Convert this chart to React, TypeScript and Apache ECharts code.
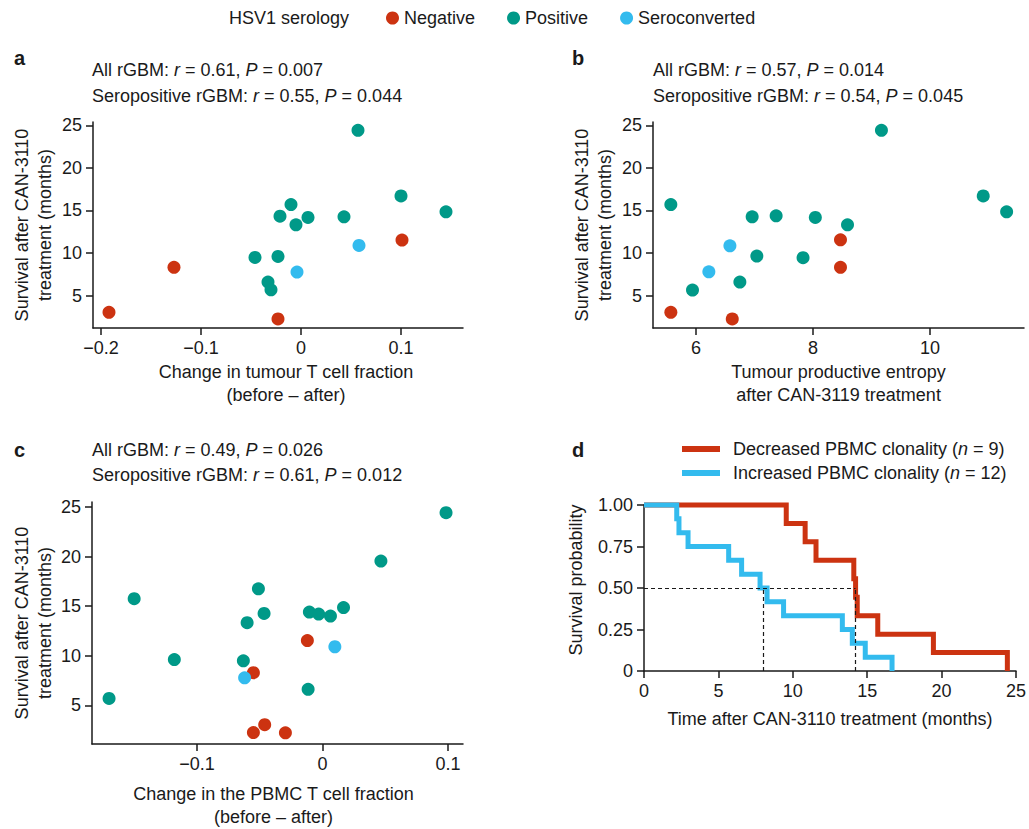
import React, { useEffect, useRef } from 'react';
import * as echarts from 'echarts';

const RED = '#CC3311';
const TEAL = '#009988';
const CYAN = '#33BBEE';
const INK = '#1a1a1a';
const FONT = '"Liberation Sans", Arial, Helvetica, sans-serif';
const FS = 18;

// HSV1 serology groups
const serologyGroups = ['Negative', 'Positive', 'Seroconverted'];
const groupColors = [RED, TEAL, CYAN];

// a: change in tumour T cell fraction vs survival (months)
const aNegative = [[-0.192, 3.04], [-0.127, 8.32], [-0.023, 2.26], [0.101, 11.52]];
const aPositive = [
  [0.057, 24.41], [0.1, 16.71], [0.145, 14.84], [-0.01, 15.7], [-0.021, 14.33], [0.007, 14.18],
  [-0.005, 13.31], [0.043, 14.25], [-0.046, 9.49], [-0.023, 9.61], [-0.033, 6.59], [-0.03, 5.69],
];
const aSeroconverted = [[-0.004, 7.77], [0.058, 10.9]];

// b: tumour productive entropy vs survival (months)
const bNegative = [[5.57, 3.04], [6.62, 2.26], [8.47, 11.56], [8.47, 8.32]];
const bPositive = [
  [5.57, 15.7], [5.94, 5.66], [6.75, 6.59], [6.96, 14.25], [7.04, 9.65], [7.37, 14.37],
  [7.83, 9.45], [8.04, 14.18], [8.59, 13.31], [9.17, 24.41], [10.91, 16.71], [11.31, 14.84],
];
const bSeroconverted = [[6.22, 7.8], [6.58, 10.85]];

// c: change in PBMC T cell fraction vs survival (months)
const cNegative = [[-0.055, 8.3], [-0.012, 11.53], [-0.046, 3.06], [-0.055, 2.27], [-0.0295, 2.24]];
const cPositive = [
  [-0.17, 5.7], [-0.15, 15.75], [-0.118, 9.62], [-0.051, 16.74], [-0.0465, 14.27], [-0.06, 13.34],
  [-0.063, 9.49], [-0.0104, 14.4], [-0.003, 14.2], [0.0064, 14.0], [0.0168, 14.86], [-0.0114, 6.62],
  [0.0466, 19.54], [0.0985, 24.41],
];
const cSeroconverted = [[-0.062, 7.78], [0.0099, 10.91]];

// d: Kaplan–Meier steps (event times in months, survival after each event)
const decreasedName = 'Decreased PBMC clonality (n = 9)';
const increasedName = 'Increased PBMC clonality (n = 12)';
const decreasedTimes = [0, 9.56, 10.83, 11.56, 14.1, 14.22, 14.33, 15.71, 19.45, 24.42];
const decreasedSurv = [1, 0.889, 0.778, 0.667, 0.556, 0.444, 0.333, 0.222, 0.111, 0];
const increasedTimes = [0, 2.2, 2.35, 2.96, 5.69, 6.56, 7.8, 8.27, 9.38, 13.33, 14.0, 14.87, 16.67];
const increasedSurv = [1, 0.917, 0.833, 0.75, 0.667, 0.583, 0.5, 0.417, 0.333, 0.25, 0.167, 0.083, 0];
const decreasedMedian = 14.22;
const increasedMedian = 8.03;

// tick values
const survivalTicks = [5, 10, 15, 20, 25];
const aTicks = [-0.2, -0.1, 0, 0.1];
const bTicks = [6, 8, 10];
const cTicks = [-0.1, 0, 0.1];
const dXTicks = [0, 5, 10, 15, 20, 25];
const dYTicks = [0, 0.25, 0.5, 0.75, 1];

// correlation statistics per panel (a, b, c)
const rAll = ['0.61', '0.57', '0.49'];
const pAll = ['0.007', '0.014', '0.026'];
const rSero = ['0.55', '0.54', '0.61'];
const pSero = ['0.044', '0.045', '0.012'];

const survivalName = 'Survival after CAN-3110\ntreatment (months)';

const signed = (v: number) => (v < 0 ? '\u2212' + String(Math.abs(v)) : String(v));
const prob = (v: number) => (v === 0 ? '0' : v.toFixed(2));

function valueAxis(o: {
  grid: number; min: number; max: number; ticks: number[]; fmt: (v: number) => string;
  name: string; gap: number; rotate?: number; padding?: number[];
}) {
  return {
    type: 'value',
    gridIndex: o.grid,
    min: o.min,
    max: o.max,
    splitLine: { show: false },
    axisLine: { show: true, onZero: false, lineStyle: { color: INK, width: 1.5 } },
    axisTick: { show: true, inside: false, length: 7, customValues: o.ticks, lineStyle: { color: INK, width: 1.5 } },
    axisLabel: { show: true, customValues: o.ticks, formatter: o.fmt, color: INK, fontSize: FS, fontFamily: FONT, margin: 11 },
    name: o.name,
    nameLocation: 'middle',
    nameGap: o.gap,
    nameRotate: o.rotate ?? 0,
    nameTextStyle: { color: INK, fontSize: FS, fontFamily: FONT, lineHeight: 23, padding: o.padding ?? 0 },
  };
}

function scatterSet(idx: number, groups: number[][][]) {
  return groups.map((data, k) => ({
    type: 'scatter',
    name: serologyGroups[k],
    xAxisIndex: idx,
    yAxisIndex: idx,
    data,
    symbol: 'circle',
    symbolSize: 13,
    itemStyle: { color: groupColors[k], opacity: 1 },
    silent: true,
  }));
}

function stepData(times: number[], surv: number[]) {
  return times.map((t, i) => [t, surv[i]]);
}

function txt(x: number, y: number, text: string, extra: any = {}) {
  return {
    type: 'text',
    x,
    y,
    silent: true,
    style: {
      text,
      fill: INK,
      fontSize: FS,
      fontFamily: FONT,
      verticalAlign: 'middle',
      rich: { i: { fontStyle: 'italic', fontSize: FS, fontFamily: FONT, fill: INK } },
      ...extra,
    },
  };
}

function statLines(i: number, x: number, y1: number, y2: number) {
  return [
    txt(x, y1, `All rGBM: {i|r} = ${rAll[i]}, {i|P} = ${pAll[i]}`),
    txt(x, y2, `Seropositive rGBM: {i|r} = ${rSero[i]}, {i|P} = ${pSero[i]}`),
  ];
}

export default function App() {
  const ref = useRef<HTMLDivElement>(null);

  useEffect(() => {
    if (!ref.current) return;
    const chart = echarts.init(ref.current, undefined, { renderer: 'svg' });
    const option: any = {
      animation: false,
      backgroundColor: '#ffffff',
      textStyle: { fontFamily: FONT, color: INK },
      grid: [
        { left: 93, top: 122, width: 370, height: 206 },
        { left: 653, top: 122, width: 371, height: 206 },
        { left: 92, top: 502, width: 371, height: 246 },
        { left: 644, top: 505, width: 375, height: 166 },
      ],
      xAxis: [
        valueAxis({ grid: 0, min: -0.208, max: 0.162, ticks: aTicks, fmt: signed,
          name: 'Change in tumour T cell fraction\n(before \u2013 after)', gap: 32, padding: [0, 0, 0, 16] }),
        valueAxis({ grid: 1, min: 5.265, max: 11.607, ticks: bTicks, fmt: signed,
          name: 'Tumour productive entropy\nafter CAN-3119 treatment', gap: 32 }),
        valueAxis({ grid: 2, min: -0.1836, max: 0.112, ticks: cTicks, fmt: signed,
          name: 'Change in the PBMC T cell fraction\n(before \u2013 after)', gap: 38, padding: [0, 8, 0, 0] }),
        valueAxis({ grid: 3, min: 0, max: 25, ticks: dXTicks, fmt: signed,
          name: 'Time after CAN-3110 treatment (months)', gap: 36 }),
      ],
      yAxis: [
        valueAxis({ grid: 0, min: 1.2, max: 25.39, ticks: survivalTicks, fmt: signed,
          name: survivalName, gap: 37, rotate: 90 }),
        valueAxis({ grid: 1, min: 1.2, max: 25.39, ticks: survivalTicks, fmt: signed,
          name: survivalName, gap: 37, rotate: 90 }),
        valueAxis({ grid: 2, min: 1.115, max: 25.49, ticks: survivalTicks, fmt: signed,
          name: survivalName, gap: 36, rotate: 90 }),
        valueAxis({ grid: 3, min: 0, max: 1, ticks: dYTicks, fmt: prob,
          name: 'Survival probability', gap: 57, rotate: 90, padding: [0, 0, 0, 16] }),
      ],
      legend: [
        {
          data: serologyGroups,
          left: 386,
          top: 9,
          padding: 0,
          icon: 'circle',
          itemWidth: 13,
          itemHeight: 13,
          itemGap: 32,
          selectedMode: false,
          textStyle: { color: INK, fontSize: FS, fontFamily: FONT },
        },
        {
          data: [decreasedName, increasedName],
          orient: 'vertical',
          left: 682,
          top: 439,
          padding: 0,
          icon: 'rect',
          itemWidth: 38,
          itemHeight: 6,
          itemGap: 4,
          selectedMode: false,
          formatter: (n: string) => n.replace('(n ', '({i|n} '),
          textStyle: {
            color: INK, fontSize: FS, fontFamily: FONT, lineHeight: 20, padding: [0, 0, 0, 8],
            rich: { i: { fontStyle: 'italic', fontSize: FS, fontFamily: FONT, color: INK } },
          },
        },
      ],
      series: [
        ...scatterSet(0, [aNegative, aPositive, aSeroconverted]),
        ...scatterSet(1, [bNegative, bPositive, bSeroconverted]),
        ...scatterSet(2, [cNegative, cPositive, cSeroconverted]),
        {
          type: 'line',
          name: decreasedName,
          xAxisIndex: 3,
          yAxisIndex: 3,
          step: 'end',
          symbol: 'none',
          clip: false,
          data: stepData(decreasedTimes, decreasedSurv),
          lineStyle: { color: RED, width: 5, join: 'miter' },
          itemStyle: { color: RED },
          silent: true,
          markLine: {
            silent: true,
            symbol: ['none', 'none'],
            label: { show: false },
            lineStyle: { type: [4, 3], color: INK, width: 1.2 },
            data: [
              [{ coord: [0, 0.5] }, { coord: [decreasedMedian, 0.5] }],
              [{ coord: [increasedMedian, 0] }, { coord: [increasedMedian, 0.5] }],
              [{ coord: [decreasedMedian, 0] }, { coord: [decreasedMedian, 0.5] }],
            ],
          },
        },
        {
          type: 'line',
          name: increasedName,
          xAxisIndex: 3,
          yAxisIndex: 3,
          step: 'end',
          symbol: 'none',
          clip: false,
          data: stepData(increasedTimes, increasedSurv),
          lineStyle: { color: CYAN, width: 5, join: 'miter' },
          itemStyle: { color: CYAN },
          silent: true,
        },
      ],
      graphic: [
        txt(229, 18, 'HSV1 serology'),
        txt(14, 58, 'a', { fontWeight: 'bold', fontSize: 20 }),
        txt(572, 58, 'b', { fontWeight: 'bold', fontSize: 20 }),
        txt(14, 450, 'c', { fontWeight: 'bold', fontSize: 20 }),
        txt(572, 450, 'd', { fontWeight: 'bold', fontSize: 20 }),
        ...statLines(0, 92, 70, 96),
        ...statLines(1, 653, 70, 96),
        ...statLines(2, 92, 450, 475),
      ],
    };
    chart.setOption(option);
    return () => chart.dispose();
  }, []);

  return (
    <div
      ref={ref}
      style={{ position: 'absolute', left: 0, top: 0, width: 1029, height: 829, background: '#fff' }}
    />
  );
}
